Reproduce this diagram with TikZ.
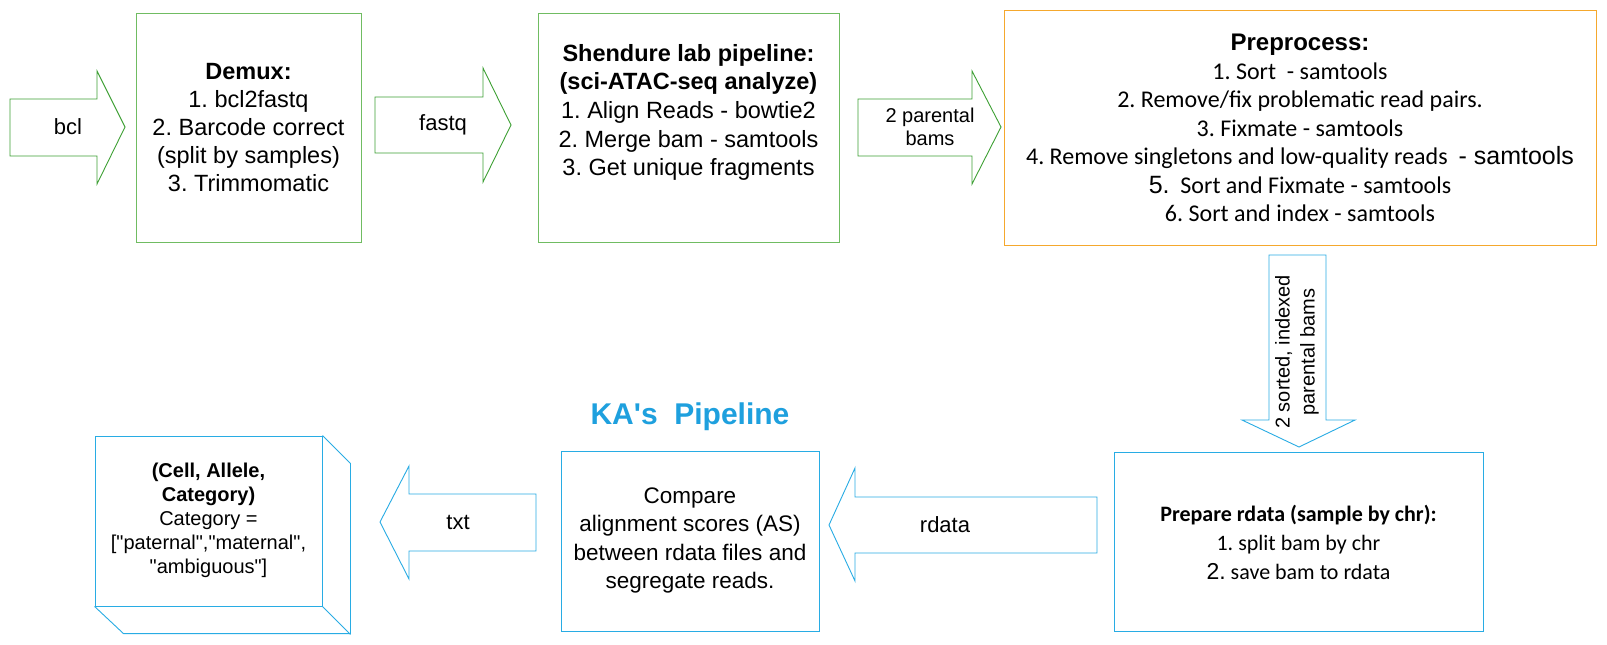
\documentclass[tikz,border=0pt]{standalone}
\usepackage{fontspec}
\setmainfont{Liberation Sans}
\newfontfamily\calfont{Carlito}
\frenchspacing
\definecolor{gboxc}{RGB}{112,188,98}
\definecolor{garrc}{RGB}{62,160,52}
\definecolor{bluec}{RGB}{40,172,228}
\definecolor{kablue}{RGB}{30,160,222}
\definecolor{orangec}{RGB}{245,168,45}
\begin{document}
\begin{tikzpicture}[x=1pt,y=-1pt,
  gbox/.style={draw=gboxc,line width=0.9pt,inner sep=0pt,fill=white},
  obox/.style={draw=orangec,line width=0.9pt,inner sep=0pt},
  bbox/.style={draw=bluec,line width=0.9pt,inner sep=0pt},
  garrow/.style={draw=garrc,line width=0.9pt,line join=miter},
  barrow/.style={draw=bluec,line width=0.9pt,line join=miter},
  lbl/.style={inner sep=0pt,align=center,text=black}]
\useasboundingbox (0,0) rectangle (1607,645);
\fill[white] (0,0) rectangle (1607,645);

% boxes
\node[gbox,minimum width=225pt,minimum height=229pt] (demux) at (248.5,127.5) {};
\node[gbox,minimum width=301pt,minimum height=229pt] (shend) at (688.5,127.5) {};
\node[obox,minimum width=592pt,minimum height=235pt] (prep) at (1300,127.5) {};
\node[bbox,minimum width=369pt,minimum height=179pt] (rdatab) at (1298.5,541.5) {};
\node[bbox,minimum width=258pt,minimum height=180pt] (comp) at (690,541) {};
\node[bbox,minimum width=227pt,minimum height=170pt] (cube) at (208.5,521) {};
\draw[bluec,line width=0.9pt,line join=miter] (cube.north east) -- ++(28,28) -- ++(0,170) -- ++(-227,0) -- (cube.south west);
\draw[bluec,line width=0.9pt] (cube.south east) -- ++(28,28);

% block arrows
\draw[garrow] (10,99) -- (97,99) -- (97,71) -- (125,127) -- (97,184) -- (97,156) -- (10,156) -- cycle;
\draw[garrow] (375,97) -- (483,97) -- (483,68) -- (511,125) -- (483,182) -- (483,153) -- (375,153) -- cycle;
\draw[garrow] (858,99) -- (972,99) -- (972,71) -- (1001,127) -- (972,184) -- (972,156) -- (858,156) -- cycle;
\draw[barrow] (1269,255) -- (1326,255) -- (1326,420) -- (1355,420) -- (1299,447) -- (1242,420) -- (1269,420) -- cycle;
\draw[barrow] (1097,497) -- (855,497) -- (855,468) -- (829,525) -- (855,581) -- (855,553) -- (1097,553) -- cycle;
\draw[barrow] (536,494) -- (409,494) -- (409,466) -- (380,522) -- (409,579) -- (409,551) -- (536,551) -- cycle;

% arrow labels
\node[lbl,font=\fontsize{22}{26}\selectfont] (bcl) at (68,127) {bcl};
\node[lbl,font=\fontsize{22}{26}\selectfont] (fastq) at (443,125) {fastq};
\node[lbl,font=\fontsize{20}{23}\selectfont] (pbams) at (930,127) {2 parental\\bams};
\node[lbl,font=\fontsize{20}{25}\selectfont,rotate=90] (sbams) at (1297,352) {2 sorted, indexed\\parental bams};
\node[lbl,font=\fontsize{22}{26}\selectfont] (rdl) at (945,525) {rdata};
\node[lbl,font=\fontsize{22}{26}\selectfont] (txtl) at (458,522) {txt};

% box texts
\node[lbl,font=\fontsize{23.5}{28}\selectfont] (demuxt) at (248.5,128) {\textbf{Demux:}\\1. bcl2fastq\\2. Barcode correct\\(split by samples)\\3. Trimmomatic};
\node[lbl,font=\fontsize{23.5}{28.7}\selectfont] (shendt) at (688.5,112.5) {\textbf{Shendure lab pipeline:}\\\textbf{(sci-ATAC-seq analyze)}\\1. Align Reads - bowtie2\\2. Merge bam - samtools\\3. Get unique fragments};
\node[lbl,font=\fontsize{24}{28.5}\selectfont] (prept) at (1300,128) {\textbf{Preprocess:}\\
 \calfont 1. Sort\ \ - samtools\\
 \calfont 2. Remove/fix problematic read pairs.\\
 \calfont 3. Fixmate - samtools\\
 \calfont 4. Remove singletons and low-quality reads\ \ {\rmfamily\fontsize{25}{28.5}\selectfont- samtools}\\
 {\fontsize{25}{28.5}\selectfont 5.}\calfont\ \ Sort and Fixmate - samtools\\
 \calfont 6. Sort and index - samtools};
\node[lbl,font=\calfont\fontsize{22}{29}\selectfont] (rdatat) at (1298.5,542) {\textbf{Prepare rdata (sample by chr):}\\1. split bam by chr\\{\rmfamily\fontsize{23}{29}\selectfont 2.}\ save bam to rdata};
\node[lbl,font=\fontsize{22.5}{28.3}\selectfont] (compt) at (690,540.5) {Compare\\alignment scores (AS)\\between rdata files and\\segregate reads.};
\node[lbl,font=\fontsize{20}{24}\selectfont] (cubet) at (208.5,520.5) {\textbf{(Cell, Allele,}\\\textbf{Category)}\\Category =\\{[}\textquotedbl paternal\textquotedbl,\textquotedbl maternal\textquotedbl,\\\textquotedbl ambiguous\textquotedbl{]}};
\node[lbl,font=\bfseries\fontsize{30}{34}\selectfont,text=kablue] (ka) at (690,417) {KA\textquotesingle s\ \ Pipeline};
\end{tikzpicture}
\end{document}
